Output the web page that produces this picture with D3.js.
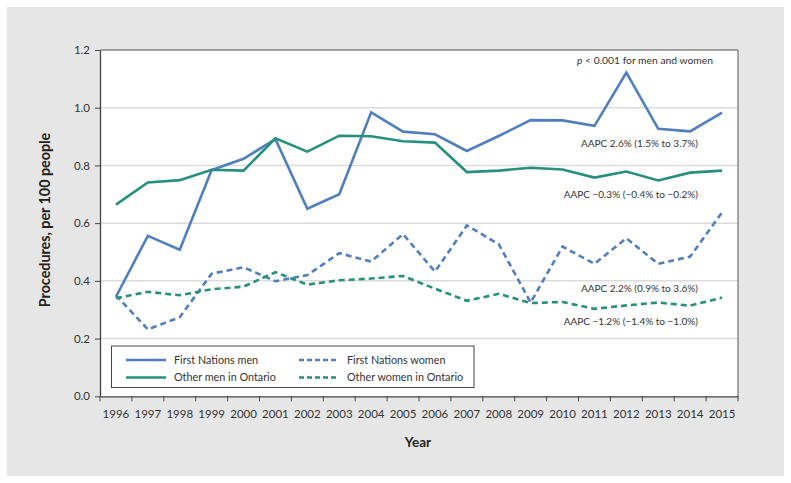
<!DOCTYPE html>
<html><head><meta charset="utf-8">
<script src="https://cdn.jsdelivr.net/npm/d3@7"></script>
<style>body{margin:0;background:#fff;} text{font-family:"Source Sans Pro",Lato,"Noto Sans",sans-serif;}</style>
</head><body>
<svg id="c" width="791" height="483"></svg>
<script>
const years = ["1996","1997","1998","1999","2000","2001","2002","2003","2004","2005","2006","2007","2008","2009","2010","2011","2012","2013","2014","2015"];
const fnMen    = [0.345,0.556,0.508,0.784,0.823,0.891,0.650,0.700,0.984,0.917,0.908,0.850,0.902,0.957,0.956,0.937,1.122,0.927,0.918,0.983];
const otherMen = [0.664,0.741,0.749,0.785,0.782,0.894,0.848,0.903,0.901,0.884,0.879,0.777,0.782,0.792,0.786,0.758,0.779,0.748,0.775,0.782];
const fnWomen  = [0.350,0.232,0.274,0.425,0.447,0.399,0.420,0.496,0.467,0.562,0.432,0.592,0.527,0.325,0.519,0.459,0.548,0.459,0.484,0.637];
const otherWomen=[0.340,0.362,0.350,0.371,0.380,0.430,0.387,0.402,0.408,0.417,0.373,0.331,0.355,0.323,0.327,0.303,0.315,0.325,0.314,0.342];
const yTicks = [0,0.2,0.4,0.6,0.8,1.0,1.2];
const seriesNames = ["First Nations men","First Nations women","Other men in Ontario","Other women in Ontario"];
const annotations = [
  {text:"AAPC 2.6% (1.5% to 3.7%)", v:0.875},
  {text:"AAPC \u22120.3% (\u22120.4% to \u22120.2%)", v:0.70},
  {text:"AAPC 2.2% (0.9% to 3.6%)", v:0.372},
  {text:"AAPC \u22121.2% (\u22121.4% to \u22121.0%)", v:0.260}
];

const BLUE="#4f7fbe", TEAL="#25907f";
const series = [
  {name:seriesNames[0], vals:fnMen, color:BLUE, dash:null},
  {name:seriesNames[1], vals:fnWomen, color:BLUE, dash:"6,4"},
  {name:seriesNames[2], vals:otherMen, color:TEAL, dash:null},
  {name:seriesNames[3], vals:otherWomen, color:TEAL, dash:"6,4"}
];

const svg = d3.select("#c");
svg.append("rect").attr("x",7).attr("y",7).attr("width",777).attr("height",469).attr("fill","#e6e6e6");

const L=100, R=738, T=50, B=396.3;
const x = d3.scaleBand().domain(years).range([L,R]);
const y = d3.scaleLinear().domain([0,1.2]).range([B,T]);

svg.append("rect").attr("x",L).attr("y",T).attr("width",R-L).attr("height",B-T).attr("fill","#fff");

// grid
svg.append("g").selectAll("line").data(yTicks.filter(d=>d>0 && d<1.2)).join("line")
  .attr("x1",L).attr("x2",R).attr("y1",d=>y(d)).attr("y2",d=>y(d))
  .attr("stroke","#dcdcdc").attr("stroke-width",1.5);

// frame top/right
svg.append("path").attr("d",`M${L},${T}H${R}V${B}`).attr("fill","none").attr("stroke","#555").attr("stroke-width",1);

// y axis
const ya = svg.append("g").attr("transform",`translate(${L},0)`)
  .call(d3.axisLeft(y).tickValues(yTicks).tickFormat(d3.format(".1f")).tickSize(5).tickSizeOuter(0));
ya.select(".domain").attr("stroke","#444").attr("stroke-width",1.3);
ya.selectAll(".tick line").attr("stroke","#444");
ya.selectAll("text").attr("font-size",11.5).attr("fill","#333").attr("x",-10);

// x axis
const xa = svg.append("g").attr("transform",`translate(0,${B})`)
  .call(d3.axisBottom(x).tickSize(0).tickSizeOuter(0));
xa.select(".domain").attr("stroke","#444").attr("stroke-width",1.3);
xa.selectAll("text").attr("font-size",11.5).attr("fill","#333").attr("dy","1.6em");
// tick marks at band boundaries
svg.append("g").selectAll("line").data(years).join("line")
  .attr("x1",d=>x(d)+x.bandwidth()).attr("x2",d=>x(d)+x.bandwidth())
  .attr("y1",B).attr("y2",B+5).attr("stroke","#444").attr("stroke-width",1);
svg.append("line").attr("x1",L).attr("x2",L).attr("y1",B).attr("y2",B+5).attr("stroke","#444");

// lines
const line = d3.line().x((d,i)=>x(years[i])+x.bandwidth()/2).y(d=>y(d));
series.forEach(s=>{
  svg.append("path").datum(s.vals).attr("d",line).attr("fill","none")
    .attr("stroke",s.color).attr("stroke-width",2.6).attr("stroke-linejoin","miter")
    .attr("stroke-dasharray",s.dash);
});

// annotations
const ann = svg.append("text").attr("x",645).attr("y",64).attr("text-anchor","middle")
  .attr("font-size",10.3).attr("fill","#333");
ann.append("tspan").attr("font-style","italic").text("p");
ann.append("tspan").text(" < 0.001 for men and women");
annotations.forEach(a=>{
  svg.append("text").attr("x",698).attr("y",y(a.v)).attr("dy","0.35em").attr("text-anchor","end")
    .attr("font-size",10).attr("fill","#333").text(a.text);
});

// legend
const lg = svg.append("g");
lg.append("rect").attr("x",111.5).attr("y",346).attr("width",362.5).attr("height",41.5)
  .attr("fill","#fff").attr("stroke","#444").attr("stroke-width",1);
const legPos = [[126,360],[299,360],[126,377.5],[299,377.5]];
series.forEach((s,i)=>{
  const [lx,ly]=legPos[i];
  lg.append("line").attr("x1",lx).attr("x2",lx+40).attr("y1",ly).attr("y2",ly)
    .attr("stroke",s.color).attr("stroke-width",2.6).attr("stroke-dasharray",s.dash?"5,3":null);
  lg.append("text").attr("x",lx+48).attr("y",ly).attr("dy","0.35em").attr("font-size",10.8)
    .attr("fill","#333").text(s.name);
});

// axis titles
svg.append("text").attr("transform","translate(50,220) rotate(-90)").attr("text-anchor","middle")
  .attr("font-size",14.3).attr("font-weight","bold").attr("fill","#222").text("Procedures, per 100 people");
svg.append("text").attr("x",418).attr("y",447).attr("text-anchor","middle")
  .attr("font-size",13.5).attr("font-weight","bold").attr("fill","#222").text("Year");
</script>
</body></html>
